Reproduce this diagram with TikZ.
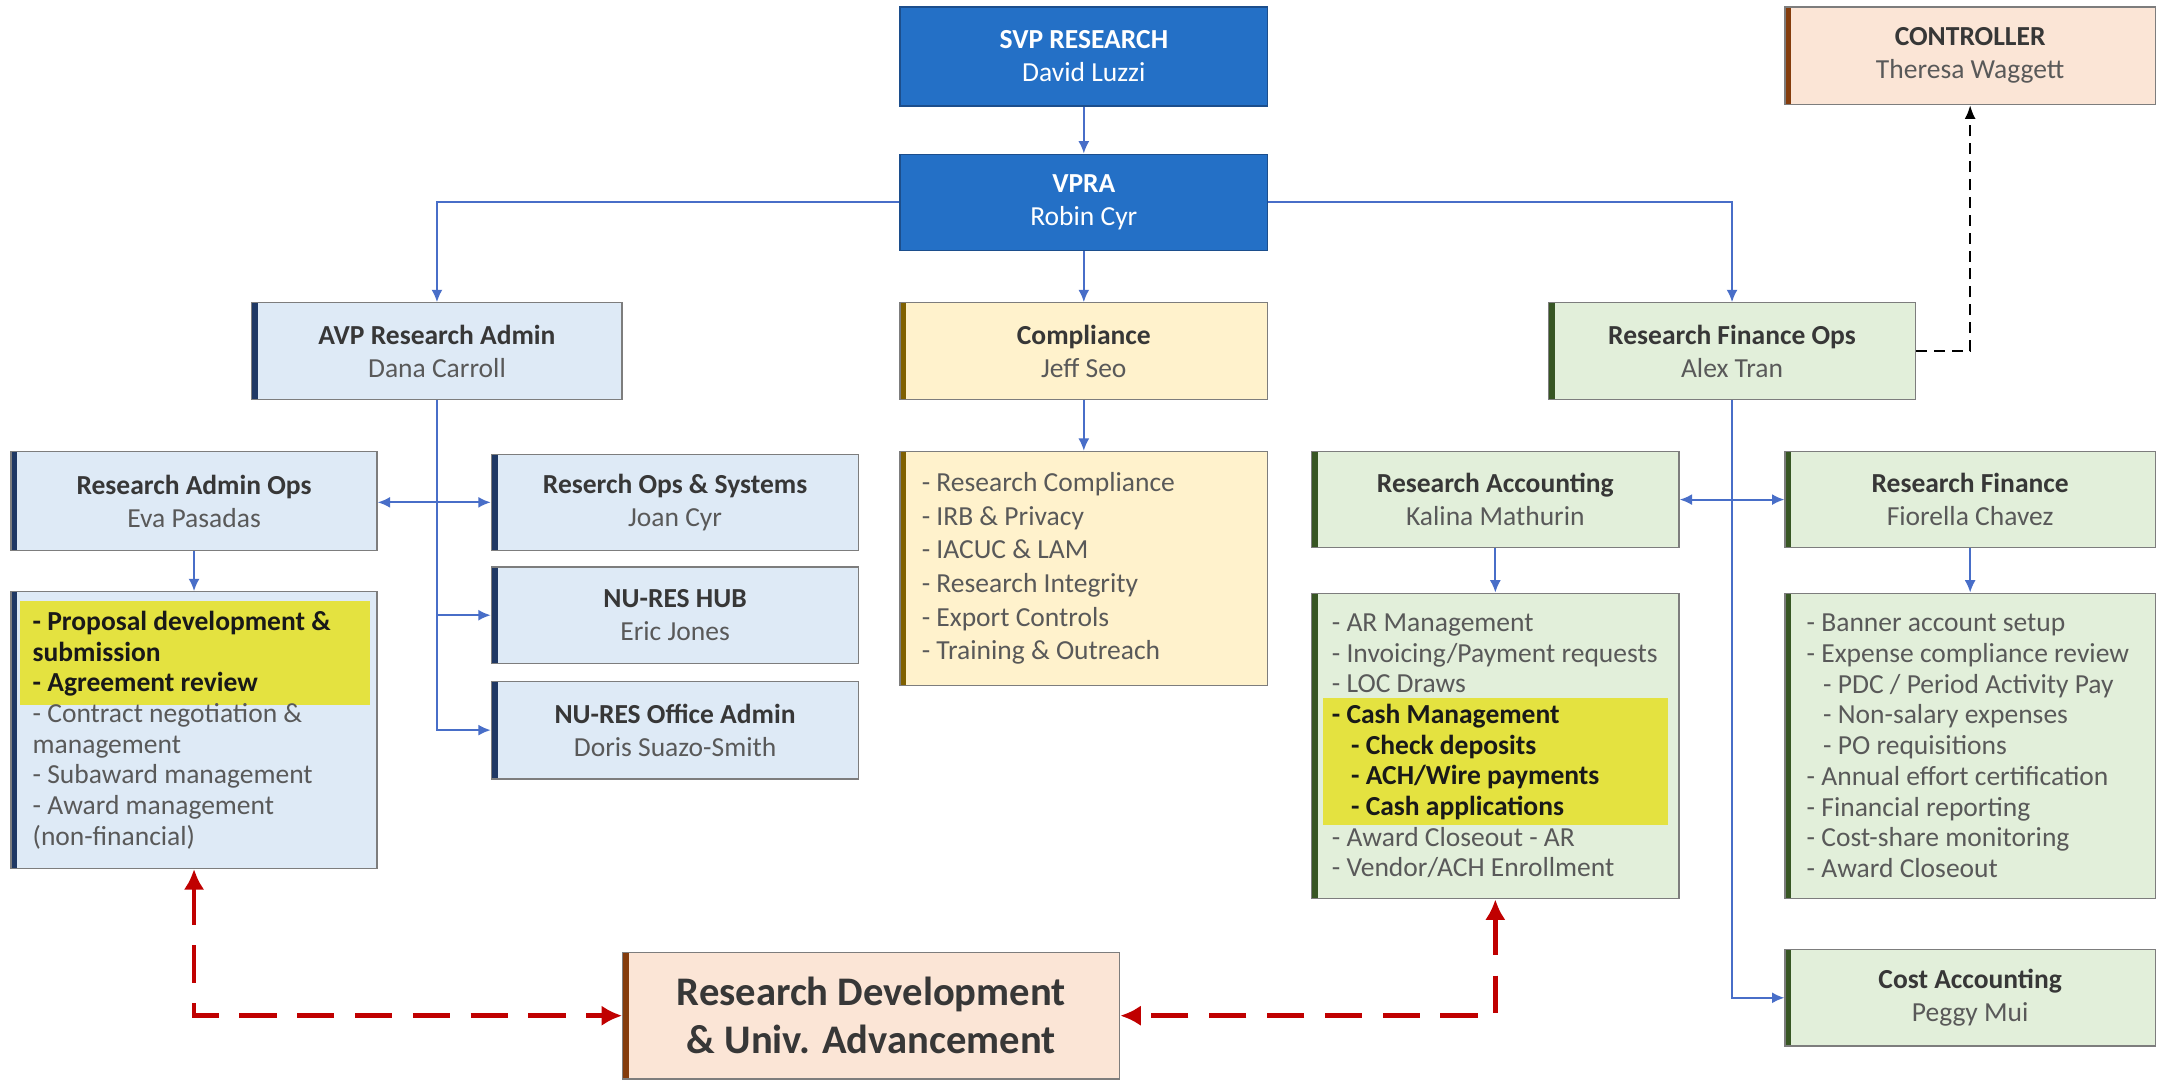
\documentclass[tikz,border=0pt]{standalone}
\usepackage{fontspec}
\setmainfont{Carlito}
\usetikzlibrary{arrows.meta}
\definecolor{svpblue}{RGB}{36,112,198}
\definecolor{svpedge}{RGB}{28,78,140}
\definecolor{lblue}{RGB}{222,234,246}
\definecolor{barblue}{RGB}{31,56,100}
\definecolor{lyellow}{RGB}{255,242,204}
\definecolor{baryellow}{RGB}{127,96,0}
\definecolor{lgreen}{RGB}{226,239,218}
\definecolor{bargreen}{RGB}{55,86,35}
\definecolor{lpeach}{RGB}{251,229,214}
\definecolor{barpeach}{RGB}{132,60,12}
\definecolor{hilite}{RGB}{228,226,64}
\definecolor{conn}{RGB}{72,110,200}
\definecolor{redc}{RGB}{192,0,0}
\definecolor{titlec}{RGB}{55,55,55}
\definecolor{namec}{RGB}{89,89,89}
\definecolor{edgec}{RGB}{125,125,125}
\definecolor{boldc}{RGB}{25,25,25}
\tikzset{
  base/.style={draw=edgec, line width=0.9pt, inner sep=0pt, align=center,
    font=\fontsize{20}{24}\selectfont, text=namec},
  leftbar/.style={path picture={\fill[#1] (path picture bounding box.north west) rectangle ([xshift=4.5pt]path picture bounding box.south west);}},
  topbox/.style={base, draw=svpedge, fill=svpblue, text=white},
  bluebox/.style={base, fill=lblue, leftbar=barblue},
  yellowbox/.style={base, fill=lyellow, leftbar=baryellow},
  greenbox/.style={base, fill=lgreen, leftbar=bargreen},
  peachbox/.style={base, fill=lpeach, leftbar=barpeach},
  listtext/.style={inner sep=0pt, align=left, anchor=west, text=namec,
    font=\fontsize{20}{22.3}\selectfont},
  conline/.style={draw=conn, line width=1.4pt, -{Latex[length=9pt,width=8pt]}},
  dconline/.style={draw=conn, line width=1.4pt, {Latex[length=9pt,width=8pt]}-{Latex[length=9pt,width=8pt]}},
  ctrlline/.style={draw=black, line width=1.5pt, dash pattern=on 8pt off 5pt, -{Latex[length=10pt,width=8pt]}},
  redline/.style={draw=redc, line width=3.5pt, dash pattern=on 27pt off 15pt,
    {Latex[length=15pt,width=15pt]}-{Latex[length=15pt,width=15pt]}},
}
\newcommand\ttl[2]{{\color{titlec}\bfseries #1}\\#2}
\begin{document}
\begin{tikzpicture}[x=1pt,y=-1pt]
\useasboundingbox[fill=white] (0,0) rectangle (1568,785);
% top
\node[topbox, minimum width=267pt, minimum height=72pt] (svp) at (787.5,41) {\textbf{SVP RESEARCH}\\David Luzzi};
\node[topbox, minimum width=267pt, minimum height=70pt] (vpra) at (787.5,147) {\textbf{VPRA}\\Robin Cyr};
\node[peachbox, minimum width=269pt, minimum height=71pt] (ctrl) at (1431.5,40.5) {\ttl{CONTROLLER}{Theresa Waggett}};
% second row
\node[bluebox, minimum width=269pt, minimum height=70pt] (avp) at (317.5,255) {\ttl{AVP Research Admin}{Dana Carroll}};
\node[yellowbox, minimum width=267pt, minimum height=70pt] (comp) at (787.5,255) {\ttl{Compliance}{Jeff Seo}};
\node[greenbox, minimum width=267pt, minimum height=70pt] (rfo) at (1258.5,255) {\ttl{Research Finance Ops}{Alex Tran}};
% admin side
\node[bluebox, minimum width=266pt, minimum height=72pt] (rao) at (141,364) {\ttl{Research Admin Ops}{Eva Pasadas}};
\node[bluebox, minimum width=267pt, minimum height=70pt] (rops) at (490.5,365) {\ttl{Reserch Ops \& Systems}{Joan Cyr}};
\node[bluebox, minimum width=267pt, minimum height=70pt] (hub) at (490.5,447) {\ttl{NU-RES HUB}{Eric Jones}};
\node[bluebox, minimum width=267pt, minimum height=71pt] (offc) at (490.5,530.5) {\ttl{NU-RES Office Admin}{Doris Suazo-Smith}};
\node[bluebox, minimum width=266pt, minimum height=201pt] (raolist) at (141,530.5) {};
\fill[hilite] (14.5,437) rectangle (269,512);
\node[listtext] (raolistT) at ([xshift=16pt]raolist.west) {{\color{boldc}\bfseries - Proposal development \&}\\{\color{boldc}\bfseries submission}\\{\color{boldc}\bfseries - Agreement review}\\- Contract negotiation \&\\management\\- Subaward management\\- Award management\\(non-financial)};
% compliance list
\node[yellowbox, minimum width=267pt, minimum height=170pt] (complist) at (787.5,413) {};
\node[listtext, font=\fontsize{20}{24.5}\selectfont] (complistT) at ([xshift=16pt]complist.west) {- Research Compliance\\- IRB \& Privacy\\- IACUC \& LAM\\- Research Integrity\\- Export Controls\\- Training \& Outreach};
% finance side
\node[greenbox, minimum width=267pt, minimum height=70pt] (racc) at (1086.5,363) {\ttl{Research Accounting}{Kalina Mathurin}};
\node[greenbox, minimum width=269pt, minimum height=70pt] (rfin) at (1431.5,363) {\ttl{Research Finance}{Fiorella Chavez}};
\node[greenbox, minimum width=267pt, minimum height=222pt] (racclist) at (1086.5,542) {};
\fill[hilite] (961,507) rectangle (1212,599.5);
\node[listtext] (racclistT) at ([xshift=15pt]racclist.west) {- AR Management\\- Invoicing/Payment requests\\- LOC Draws\\{\color{boldc}\bfseries - Cash Management}\\\hspace*{14pt}{\color{boldc}\bfseries - Check deposits}\\\hspace*{14pt}{\color{boldc}\bfseries - ACH/Wire payments}\\\hspace*{14pt}{\color{boldc}\bfseries - Cash applications}\\- Award Closeout - AR\\- Vendor/ACH Enrollment};
\node[greenbox, minimum width=269pt, minimum height=222pt] (rfinlist) at (1431.5,542) {};
\node[listtext] (rfinlistT) at ([xshift=16pt]rfinlist.west) {- Banner account setup\\- Expense compliance review\\\hspace*{12pt}- PDC / Period Activity Pay\\\hspace*{12pt}- Non-salary expenses\\\hspace*{12pt}- PO requisitions\\- Annual effort certification\\- Financial reporting\\- Cost-share monitoring\\- Award Closeout};
\node[greenbox, minimum width=269pt, minimum height=70pt] (cost) at (1431.5,725) {\ttl{Cost Accounting}{Peggy Mui}};
% bottom
\node[peachbox, minimum width=361pt, minimum height=92pt, font=\fontsize{29.5}{35}\selectfont, text=titlec] (rdua) at (633,738) {\textbf{Research Development}\\\textbf{\& Univ. Advancement}};
% connectors
\draw[conline] (svp) -- (vpra);
\draw[conline] (vpra) -- (comp);
\draw[conline] (vpra.west) -| (avp.north);
\draw[conline] (vpra.east) -| (rfo.north);
\draw[conline] (avp.south) |- (offc.west);
\draw[conline] (avp.south |- hub.west) -- (hub.west);
\draw[dconline] (rao.east |- rops.west) -- (rops.west);
\draw[conline] (rao) -- (raolist);
\draw[conline] (comp) -- (complist);
\draw[conline] (rfo.south) |- (cost.west);
\draw[dconline] (racc.east) -- (rfin.west);
\draw[conline] (racc) -- (racclist);
\draw[conline] (rfin) -- (rfinlist);
\draw[ctrlline] (rfo.east) -| (ctrl.south);
\draw[redline] (raolist.south) |- (rdua.west);
\draw[redline] (racclist.south) |- (rdua.east);
\end{tikzpicture}
\end{document}
